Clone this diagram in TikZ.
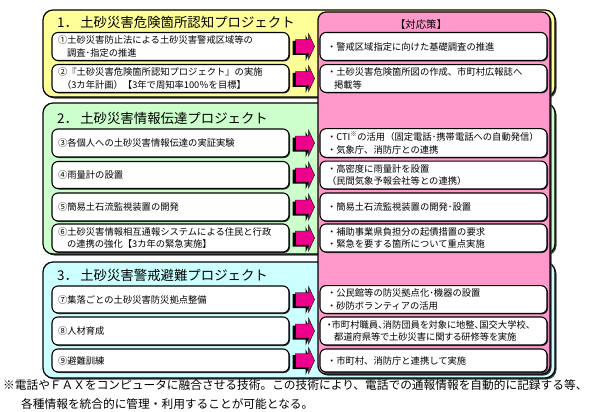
\documentclass[tikz,border=0pt]{standalone}
\usepackage{fontspec}
\setmainfont{Noto Sans CJK JP}
\newfontfamily\proptext{Noto Sans CJK JP}[RawFeature=+palt]
\usepackage{tikz}
\usetikzlibrary{shadows}

\definecolor{projyellow}{RGB}{255,255,153}
\definecolor{projgreen}{RGB}{204,255,204}
\definecolor{projcyan}{RGB}{204,255,255}
\definecolor{panelpink}{RGB}{255,153,204}

\begin{document}
\begin{tikzpicture}[x=1pt,y=-1pt,
  group/.style={draw,line width=1.2pt,rounded corners=10pt,minimum width=512pt,inner sep=0pt,
    drop shadow={shadow xshift=1.5pt,shadow yshift=-1.5pt,fill=black!75,opacity=1}},
  title/.style={anchor=west,inner sep=0pt,font=\fontsize{13.4}{15}\selectfont},
  panel/.style={draw,fill=panelpink,line width=1.2pt,rounded corners=8pt,inner sep=0pt,
    drop shadow={shadow xshift=1.5pt,shadow yshift=-1.5pt,fill=black!80,opacity=1}},
  item/.style={draw,fill=white,line width=1.1pt,rounded corners=6pt,align=left,
    font=\fontsize{9.3}{12.5}\selectfont,
    drop shadow={shadow xshift=1pt,shadow yshift=-1pt,fill=black!80,opacity=1}},
  lefti/.style={item,inner xsep=6pt,text width=225pt},
  righti/.style={item,inner xsep=7pt,text width=213pt},
  note/.style={anchor=west,inner sep=0pt,font=\fontsize{11.7}{14}\selectfont}
]
\useasboundingbox (0,0) rectangle (600,412);
% project groups
\node[group,fill=projyellow,minimum height=87pt] (g1) at (299,53.5) {};
\node[group,fill=projgreen,minimum height=151pt] (g2) at (299,178.5) {};
\node[group,fill=projcyan,minimum height=116pt] (g3) at (299,320) {};
\node[title] (t1) at (57,22) {1．\,土砂災害危険箇所認知プロジェクト};
\node[title] (t2) at (57,118) {2．\,土砂災害情報伝達プロジェクト};
\node[title] (t3) at (57,275) {3．\,土砂災害警戒避難プロジェクト};
% countermeasure panel
\node[panel,minimum width=232pt,minimum height=362pt] (taisaku) at (434,193) {};
\node[font=\fontsize{10.4}{12}\selectfont] (head) at (421,25) {【対応策】};
% projects
\node[lefti,minimum height=28pt] (l1) at (170.5,46.5) {①土砂災害防止法による土砂災害警戒区域等の\\\hspace{9pt}調査･指定の推進};
\node[lefti,minimum height=27pt] (l2) at (170.5,78.5) {②『土砂災害危険箇所認知プロジェクト』の実施\\\hspace{4pt}（3カ年計画）【3年で周知率100％を目標】};
\node[lefti,minimum height=28pt] (l3) at (170.5,143) {③各個人への土砂災害情報伝達の実証実験};
\node[lefti,minimum height=27pt] (l4) at (170.5,175) {④雨量計の設置};
\node[lefti,minimum height=28pt] (l5) at (170.5,207) {⑤簡易土石流監視装置の開発};
\node[lefti,minimum height=28pt] (l6) at (170.5,238) {⑥土砂災害情報相互通報システムによる住民と行政\\\hspace{9pt}の連携の強化【3カ年の緊急実施】};
\node[lefti,minimum height=27pt] (l7) at (170.5,299.5) {⑦集落ごとの土砂災害防災拠点整備};
\node[lefti,minimum height=28pt] (l8) at (170.5,331) {⑧人材育成};
\node[lefti,minimum height=23pt] (l9) at (170.5,360.5) {⑨避難訓練};
% measures
\node[righti,minimum height=28pt] (r1) at (433.5,46.5) {・警戒区域指定に向けた基礎調査の推進};
\node[righti,minimum height=27pt] (r2) at (433.5,78.5) {・土砂災害危険箇所図の作成、市町村広報誌へ\\\hspace{7pt}掲載等};
\node[righti,minimum height=28pt] (r3) at (433.5,143) {・CTI\textsuperscript{※}の活用（固定電話･携帯電話への自動発信）\\・気象庁、消防庁との連携};
\node[righti,minimum height=27pt] (r4) at (433.5,175) {・高密度に雨量計を設置\\（民間気象予報会社等との連携）};
\node[righti,minimum height=28pt] (r5) at (433.5,207) {・簡易土石流監視装置の開発･設置};
\node[righti,minimum height=28pt] (r6) at (433.5,238) {・補助事業県負担分の起債措置の要求\\・緊急を要する箇所について重点実施};
\node[righti,minimum height=27pt] (r7) at (433.5,299.5) {・公民館等の防災拠点化･機器の設置\\・砂防ボランティアの活用};
\node[righti,minimum height=28pt,font=\proptext\fontsize{9.3}{12.5}\selectfont] (r8) at (433.5,331) {・市町村職員、消防団員を対象に地整、国交大学校、\\\hspace{7pt}都道府県等で土砂災害に関する研修等を実施};
\node[righti,minimum height=23pt] (r9) at (433.5,360.5) {・市町村、消防庁と連携して実施};
% block arrows
\foreach \i in {1,...,9}{
  \fill[black,shift={(l\i.east)},xshift=-3pt,yshift=-1.5pt]
    (6,-7) -- (19,-7) -- (19,-13) -- (25,0) -- (19,13) -- (19,7) -- (6,7) -- cycle;
  \filldraw[fill=magenta,draw=black,line width=0.4pt,shift={(l\i.east)}]
    (6,-7) -- (19,-7) -- (19,-13) -- (25,0) -- (19,13) -- (19,7) -- (6,7) -- cycle;
}
% footnote
\node[note] (n1) at (3,385) {※電話やＦＡＸをコンピュータに融合させる技術。この技術により、電話での通報情報を自動的に記録する等、};
\node[note] (n2) at (21,404) {各種情報を統合的に管理・利用することが可能となる。};
\end{tikzpicture}
\end{document}
